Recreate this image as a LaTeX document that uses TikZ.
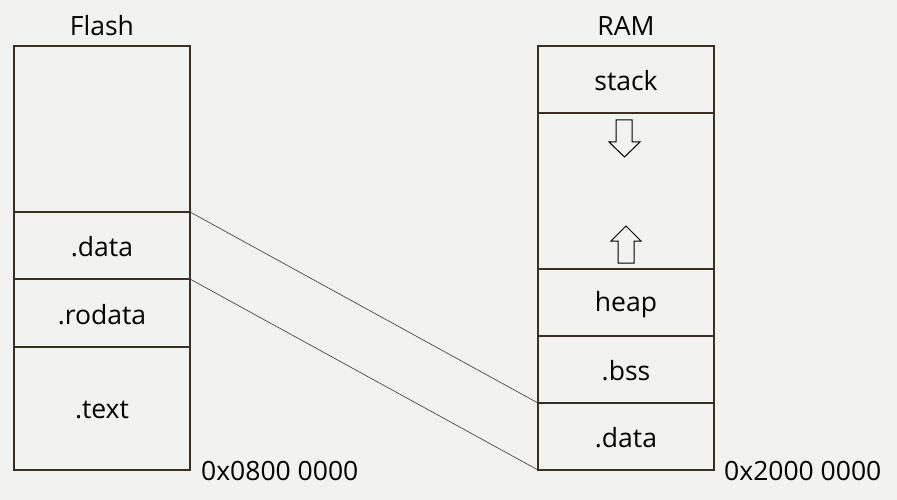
\documentclass[tikz,border=0pt]{standalone}
\usepackage{fontspec}
\setmainfont{Open Sans}
\begin{document}
\begin{tikzpicture}[x=1pt,y=-1pt,
  box/.style={draw=boxc,line width=1.2pt},
  lbl/.style={font=\fontsize{26.5}{30}\selectfont,text=black,inner sep=0pt},
  conn/.style={draw=black!80,line width=0.6pt},
  hollow/.style={draw=black,line width=1pt,fill=bgc}]
\definecolor{bgc}{HTML}{F2F2F0}
\definecolor{boxc}{HTML}{3A3020}
\fill[bgc] (0,0) rectangle (897,500);
\useasboundingbox (0,0) rectangle (897,500);
% Flash
\node[lbl] (flashT) at (102,26) {Flash};
\draw[box] (14,46) rectangle (190,470);
\coordinate (fa) at (190,212);
\coordinate (fb) at (190,279);
\draw[box] (14,212) -- (fa);
\draw[box] (14,279) -- (fb);
\draw[box] (14,347) -- (190,347);
\node[lbl] (fdata) at (102,247) {.data};
\node[lbl] (frodata) at (102,315) {.rodata};
\node[lbl] (ftext) at (102,410) {.text};
\node[lbl,anchor=west] (faddr) at (201,471) {0x0800 0000};
% RAM
\node[lbl] (ramT) at (626,26) {RAM};
\draw[box] (538,46) rectangle (714,470);
\draw[box] (538,113) -- (714,113);
\draw[box] (538,269) -- (714,269);
\draw[box] (538,336) -- (714,336);
\coordinate (ra) at (538,403);
\coordinate (rb) at (538,470);
\draw[box] (ra) -- (714,403);
\node[lbl] (stack) at (626,81) {stack};
\node[lbl] (heap) at (626,305) {heap};
\node[lbl] (bss) at (626,371) {.bss};
\node[lbl] (rdata) at (626,438) {.data};
\node[lbl,anchor=west] (raddr) at (724,471) {0x2000 0000};
% connectors
\draw[conn] (fa) -- (ra);
\draw[conn] (fb) -- (rb);
% arrows
\draw[hollow] (616,120) -- (632,120) -- (632,142) -- (640,142) -- (624.5,157) -- (609,142) -- (616,142) -- cycle;
\draw[hollow] (618,263) -- (634,263) -- (634,241) -- (641,241) -- (626,226) -- (611,241) -- (618,241) -- cycle;
\end{tikzpicture}
\end{document}
